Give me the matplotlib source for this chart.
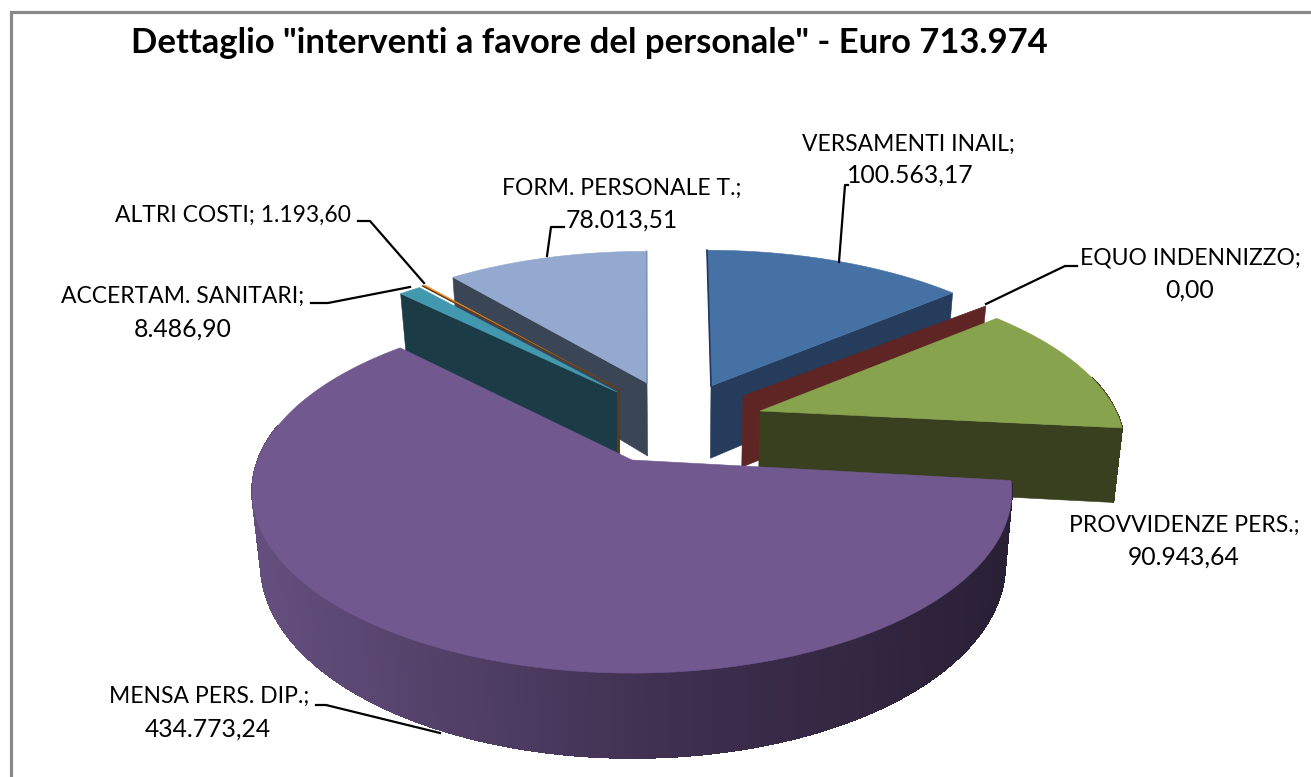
import numpy as np
import matplotlib
matplotlib.use('Agg')
import matplotlib.pyplot as plt
from matplotlib.colors import to_rgb

title = 'Dettaglio "interventi a favore del personale" - Euro 713.974'
names = ['VERSAMENTI INAIL', 'EQUO INDENNIZZO', 'PROVVIDENZE PERS.', 'MENSA PERS. DIP.',
         'ACCERTAM. SANITARI', 'ALTRI COSTI', 'FORM. PERSONALE T.']
values = [100563.17, 0.00, 90943.64, 434773.24, 8486.90, 1193.60, 78013.51]
value_text = ['100.563,17', '0,00', '90.943,64', '434.773,24', '8.486,90', '1.193,60', '78.013,51']

top_colors = ['#4571A4', '#5E2524', '#87A34D', '#71588F', '#4198AF', '#E98A2C', '#93A9CF']
side_colors = ['#253C5D', '#5E2524', '#38401F', '#3F3050', '#1B3C47', '#5E3A17', '#3A4556']

# where each exploded slice has its tip on screen, and how tall it is
tips = [(711, 386), (743, 396), (760, 411), (632, 460), (617, 392), (620, 390), (647, 383)]
depths = [78, 76, 77, 70, 74, 64, 79]
rim_shift = [(0.025, 0.05), (0.025, 0.01), (0.0, 0.01), (0.0, 0), (0, 0), (0, 0), (0.006, 0.02)]
draw_order = [6, 0, 1, 2, 4, 5, 3]

# perspective of the pie plane, fitted on the purple slice
X0, Y0, R, Q, P = 632, 460, 374, 176, 0.174
XV, SHRINK = 680, 0.98


def project(U, V):
    w = 1 + P * V
    return X0 + R * U / w, Y0 - Q * V / w


def unproject(x, y):
    V = (Y0 - y) / (Q - P * (Y0 - y))
    return (x - X0) * (1 + P * V) / R, V


def drop(x, y, V, d):
    return XV + (x - XV) * SHRINK, y + d / (1 + P * V)


def rim(i, th):
    Ua, Va = unproject(*tips[i])
    return Ua + np.sin(th) + rim_shift[i][0], Va + np.cos(th) + rim_shift[i][1]


def wall_color(i, x):
    if i != 3:
        return side_colors[i]
    left, mid, right = [to_rgb(c) for c in ('#634E7D', '#3F3050', '#2A2036')]
    return tuple(np.interp(x, [265, 660, 1000], [left[k], mid[k], right[k]]) for k in range(3))


fig = plt.figure(figsize=(13.11, 7.77), dpi=100)
ax = fig.add_axes([0, 0, 1, 1])
ax.set_xlim(0, 1311)
ax.set_ylim(777, 0)
ax.axis('off')

ax.plot([11, 11, 1311], [777, 12, 12], color='#898989', lw=2.3, solid_joinstyle='miter')

edges = np.radians(np.concatenate([[0], np.cumsum(values) / np.sum(values) * 360]))

for i in draw_order:
    th0, th1 = edges[i], edges[i + 1]
    Ua, Va = unproject(*tips[i])
    d = depths[i]
    xa, ya = tips[i]
    xa2, ya2 = drop(xa, ya, Va, d)

    # outer wall, only the part turned to the viewer
    th = np.linspace(th0, th1, max(2, int(np.degrees(th1 - th0) * 2)))
    for a, b in zip(th[:-1], th[1:]):
        if np.cos((a + b) / 2) > 0.2:
            continue
        x1, y1 = project(*rim(i, a))
        x2, y2 = project(*rim(i, b))
        x3, y3 = drop(x2, y2, rim(i, b)[1], d)
        x4, y4 = drop(x1, y1, rim(i, a)[1], d)
        c = wall_color(i, (x1 + x2) / 2)
        ax.fill([x1, x2, x3, x4], [y1, y2, y3, y4], color=c, lw=0.8, antialiased=False)

    # cut faces, the needle of ALTRI COSTI only gets the strip below
    for t, show in ((th0, np.sin(th0) < 0), (th1, np.sin(th1) > 0)):
        if not show or i == 5:
            continue
        xr, yr = project(*rim(i, t))
        xr2, yr2 = drop(xr, yr, rim(i, t)[1], d)
        ax.fill([xa, xr, xr2, xa2], [ya, yr, yr2, ya2], color=side_colors[i], lw=0.4)

    # top face
    pts = [project(*rim(i, t)) for t in th]
    xs = [xa] + [p[0] for p in pts]
    ys = [ya] + [p[1] for p in pts]
    ax.fill(xs, ys, color=top_colors[i], lw=0.4)

    if i == 5:
        x, y = project(*rim(5, th0))
        ax.plot([xa, x], [ya, y], color='#5E3A17', lw=1.0)
        ax.fill([617, 620, 620, 617], [392, 390, 456, 456], color='#5E3A17', lw=0)

# thin lighter or darker edges beside the gap
x, y = project(*rim(0, 0))
ax.plot([tips[0][0], x], [tips[0][1], y], color='#1F3864', lw=1.2)
x, y = project(*rim(6, 2 * np.pi))
ax.plot([tips[6][0], x], [tips[6][1], y], color='#7F95B5', lw=1.2)

# leader lines
leaders = [
    ([839, 845, 848], [262, 185, 185]),
    ([986, 1065, 1077], [304, 266, 266]),
    ([440, 326, 316], [733, 705, 705]),
    ([410, 328, 311], [287, 303, 303]),
    ([424, 370, 358], [283, 221, 221]),
    ([547, 551, 564], [256, 227, 227]),
]
for lx, ly in leaders:
    ax.plot(lx, ly, color='black', lw=1.6)

font = 'Lato'
lab = dict(family=font, fontsize=16.5, color='black', ha='center', va='center')
num = dict(family=font, fontsize=17.8, color='black', ha='center', va='center')
ax.text(589, 43, title, family=font, fontsize=24.95, fontweight='bold', color='black', ha='center', va='center')
ax.text(908, 144, names[0] + ';', **lab)
ax.text(910, 175, value_text[0], **num)
ax.text(1190, 258, names[1] + ';', **lab)
ax.text(1190, 290, value_text[1], **num)
ax.text(1184, 525, names[2] + ';', **lab)
ax.text(1184, 557, value_text[2], **num)
ax.text(209, 696, names[3] + ';', **lab)
ax.text(208, 729, value_text[3], **num)
ax.text(183, 296, names[4] + ';', **lab)
ax.text(183, 329, value_text[4], **num)
ax.text(233, 215, names[5] + '; ' + value_text[5], **lab)
ax.text(622, 188, names[6] + ';', **lab)
ax.text(622, 220, value_text[6], **num)

fig.savefig('out.png', dpi=100)
